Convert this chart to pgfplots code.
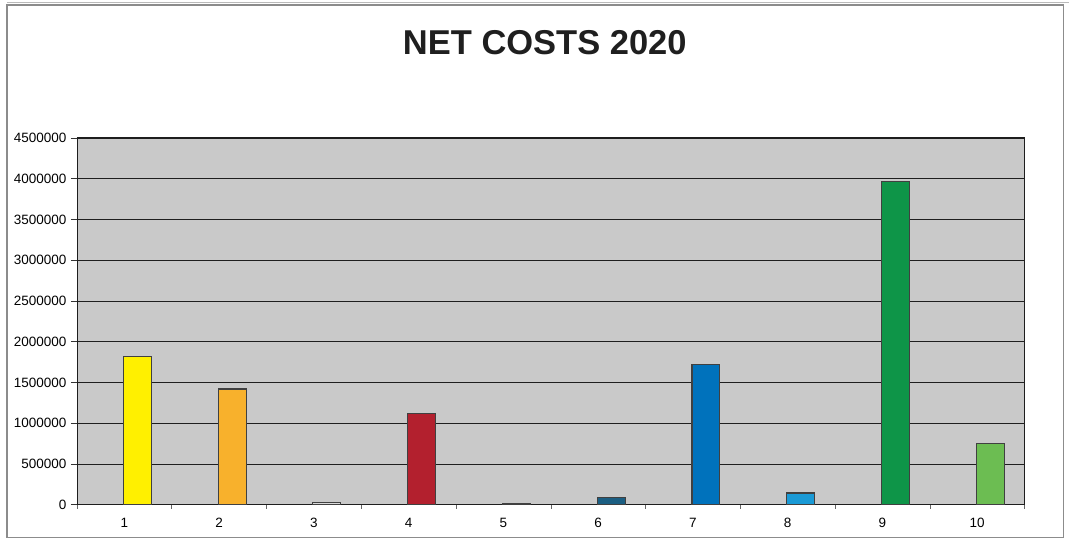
\documentclass[border=0pt]{standalone}
\usepackage{pgfplots}
\pgfplotsset{compat=1.18}
\usepackage{fontspec}
\setmainfont{Liberation Sans}

\definecolor{plotbg}{HTML}{C9C9C9}
\definecolor{gridc}{HTML}{1E1E1E}
\definecolor{frameC}{HTML}{8C8C8C}
\definecolor{c1}{HTML}{FFF000}
\definecolor{c2}{HTML}{F8B12C}
\definecolor{c3}{HTML}{DADADA}
\definecolor{c4}{HTML}{B3202E}
\definecolor{c5}{HTML}{3C3C3C}
\definecolor{c6}{HTML}{1B5E82}
\definecolor{c7}{HTML}{0072BC}
\definecolor{c8}{HTML}{1A9AD6}
\definecolor{c9}{HTML}{0E9548}
\definecolor{c10}{HTML}{6CBD52}

\pgfplotsset{
  costbar/.style={ybar, bar width=28pt, bar shift=13pt,
    draw=black!75, line width=1.1pt, fill=#1}
}

\begin{document}
\begin{tikzpicture}[x=1pt,y=1pt]
  % page size and outer chart frame
  \path (0,0) rectangle (1069,543);
  \draw[frameC, line width=1.3pt] (7,5) rectangle (1064,538);
  \draw[frameC!60, line width=0.8pt] (7,540.5) -- (1069,540.5);

  \node[font=\fontsize{34.5}{40}\selectfont\bfseries, text=black!88]
    at (545,500) {NET COSTS 2020};

  \begin{axis}[
    at={(77pt,38pt)}, anchor=south west,
    scale only axis, width=948pt, height=367pt,
    xmin=0.5, xmax=10.5, ymin=0, ymax=4500000,
    axis background/.style={fill=plotbg},
    axis line style={draw=gridc, line width=0.8pt},
    xtick={1,...,10},
    minor xtick={0.5,1.5,...,10.5},
    major x tick style={draw=none},
    minor x tick style={draw=black!60, line width=0.6pt},
    ytick={0,500000,...,4500000},
    ymajorgrids,
    major grid style={draw=gridc, line width=0.9pt},
    tick align=outside,
    major tick length=6pt, minor tick length=4pt,
    y tick style={draw=black!80, line width=0.7pt},
    xtick pos=bottom, ytick pos=left,
    scaled y ticks=false,
    /pgf/number format/.cd, fixed, 1000 sep={}, assume math mode=true,
    /pgfplots/.cd,
    tick label style={font=\fontsize{13.5}{15}\selectfont, text=black},
    yticklabel style={xshift=-1pt},
    xticklabel style={yshift=-4pt},
  ]
    \addplot[costbar=c1]  coordinates {(1,1820000)};
    \addplot[costbar=c2]  coordinates {(2,1420000)};
    \addplot[costbar=c3]  coordinates {(3,30000)};
    \addplot[costbar=c4]  coordinates {(4,1120000)};
    \addplot[costbar=c5]  coordinates {(5,15000)};
    \addplot[costbar=c6]  coordinates {(6,90000)};
    \addplot[costbar=c7]  coordinates {(7,1725000)};
    \addplot[costbar=c8]  coordinates {(8,145000)};
    \addplot[costbar=c9]  coordinates {(9,3970000)};
    \addplot[costbar=c10] coordinates {(10,750000)};
  \end{axis}
\end{tikzpicture}
\end{document}
